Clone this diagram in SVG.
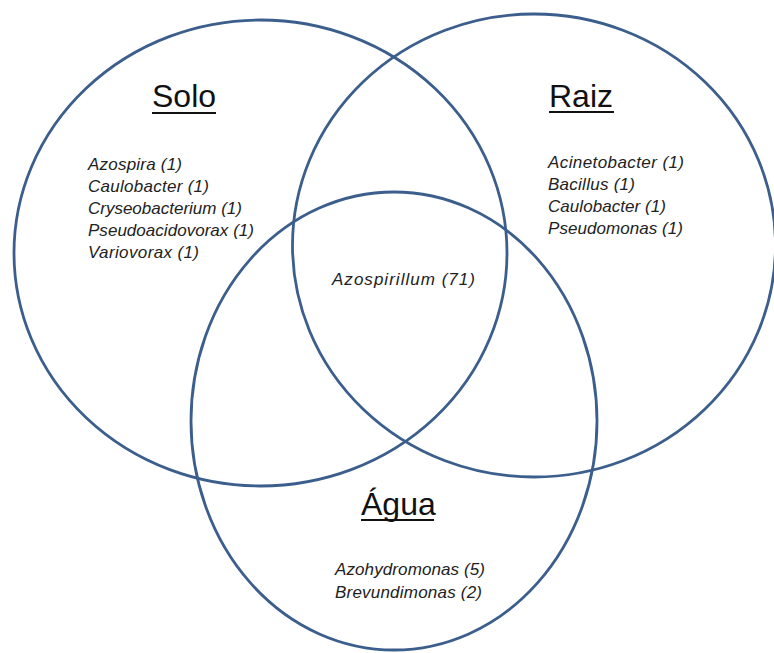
<svg xmlns="http://www.w3.org/2000/svg" width="774" height="653" viewBox="0 0 774 653">
<style>
.c{fill:none;stroke:#3b5e8c;stroke-width:2.8}
.t{font-family:"Liberation Sans",Arial,sans-serif;font-size:32px;fill:#111}
.u{stroke:#111;stroke-width:2}
.i{font-family:"Liberation Sans",Arial,sans-serif;font-size:17px;font-style:italic;fill:#222}
</style>
<rect width="774" height="653" fill="#fff"/>
<g id="connectors"/>
<g id="solo">
<ellipse class="c" cx="260.5" cy="253" rx="246.5" ry="233"/>
<text class="t" x="152" y="107">Solo</text>
<line class="u" x1="152" y1="113" x2="216" y2="113"/>
<text class="i" x="88" y="170" textLength="94" lengthAdjust="spacing">Azospira (1)</text>
<text class="i" x="88" y="192" textLength="121" lengthAdjust="spacing">Caulobacter (1)</text>
<text class="i" x="88" y="214" textLength="154" lengthAdjust="spacing">Cryseobacterium (1)</text>
<text class="i" x="88" y="236" textLength="166" lengthAdjust="spacing">Pseudoacidovorax (1)</text>
<text class="i" x="88" y="258" textLength="111" lengthAdjust="spacing">Variovorax (1)</text>
</g>
<g id="raiz">
<ellipse class="c" cx="534" cy="245.5" rx="241.5" ry="231.5"/>
<text class="t" x="549" y="107">Raiz</text>
<line class="u" x1="549" y1="112" x2="614" y2="112"/>
<text class="i" x="548" y="168" textLength="136" lengthAdjust="spacing">Acinetobacter (1)</text>
<text class="i" x="548" y="190" textLength="87" lengthAdjust="spacing">Bacillus (1)</text>
<text class="i" x="548" y="212" textLength="118" lengthAdjust="spacing">Caulobacter (1)</text>
<text class="i" x="548" y="234" textLength="135" lengthAdjust="spacing">Pseudomonas (1)</text>
</g>
<g id="agua">
<ellipse class="c" cx="394" cy="421" rx="203" ry="229"/>
<text class="t" x="361" y="515">Água</text>
<line class="u" x1="361" y1="520" x2="434" y2="520"/>
<text class="i" x="335" y="575" textLength="150" lengthAdjust="spacing">Azohydromonas (5)</text>
<text class="i" x="335" y="598" textLength="147" lengthAdjust="spacing">Brevundimonas (2)</text>
</g>
<g id="centro">
<text class="i" x="332" y="285" textLength="143" lengthAdjust="spacing">Azospirillum (71)</text>
</g>
</svg>
